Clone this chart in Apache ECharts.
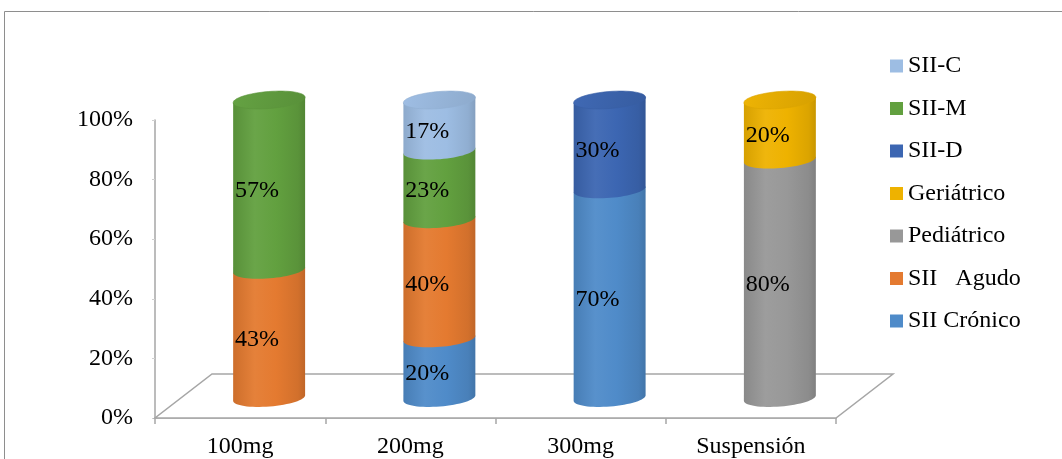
<!DOCTYPE html>
<html>
<head>
<meta charset="utf-8">
<script src="https://cdn.jsdelivr.net/npm/echarts@6/dist/echarts.min.js"></script>
<style>
  html, body { margin: 0; padding: 0; background: #fff; }
  #chart { width: 1062px; height: 459px; }
</style>
</head>
<body>
<div id="chart"></div>
<script>
// Categories and stacked shares (percent) per group
const categories = ['100mg', '200mg', '300mg', 'Suspensión'];
const siiCronico = [null, 20, 70, null];
const siiAgudo   = [43, 40, null, null];
const pediatrico = [null, null, null, 80];
const geriatrico = [null, null, null, 20];
const siiD       = [null, null, 30, null];
const siiM       = [57, 23, null, null];
const siiC       = [null, 17, null, null];
const yTicks = [0, 20, 40, 60, 80, 100];

// Stack order from bottom to top
const seriesDefs = [
  { name: 'SII Crónico', values: siiCronico, color: '#4F8BC9' },
  { name: 'SII   Agudo', values: siiAgudo,   color: '#E47A30' },
  { name: 'Pediátrico',  values: pediatrico, color: '#989898' },
  { name: 'Geriátrico',  values: geriatrico, color: '#EEB200' },
  { name: 'SII-D',       values: siiD,       color: '#3C66B2' },
  { name: 'SII-M',       values: siiM,       color: '#62A03F' },
  { name: 'SII-C',       values: siiC,       color: '#9DBDE3' }
];
const legendOrder = ['SII-C', 'SII-M', 'SII-D', 'Geriátrico', 'Pediátrico', 'SII   Agudo', 'SII Crónico'];

const FONT = '"Liberation Serif", "Times New Roman", serif';
const DEPTH_X = 29, DEPTH_Y = -20;   // cylinders sit halfway back on the floor
const FLOOR_X = 57, FLOOR_Y = -44;   // full floor depth
const TILT = 0.08;                   // slight perspective tilt of the ellipses

function shade(hex, f) {
  const n = parseInt(hex.slice(1), 16);
  let r = (n >> 16) & 255, g = (n >> 8) & 255, b = n & 255;
  const t = f > 0 ? 255 : 0, p = Math.abs(f);
  r = Math.round(r + (t - r) * p);
  g = Math.round(g + (t - g) * p);
  b = Math.round(b + (t - b) * p);
  return 'rgb(' + r + ',' + g + ',' + b + ')';
}

function bodyFill(color) {
  return {
    type: 'linear', x: 0, y: 0, x2: 1, y2: 0,
    colorStops: [
      { offset: 0, color: shade(color, -0.1) },
      { offset: 0.3, color: shade(color, 0.05) },
      { offset: 0.6, color: color },
      { offset: 0.9, color: shade(color, -0.08) },
      { offset: 1, color: shade(color, -0.16) }
    ]
  };
}

function ellipsePoint(cx, cy, rx, ry, t) {
  const c = Math.cos(t), s = Math.sin(t);
  return [
    cx + rx * c * Math.cos(TILT) + ry * s * Math.sin(TILT),
    cy - rx * c * Math.sin(TILT) + ry * s * Math.cos(TILT)
  ];
}

// Running totals so each segment knows where it starts
const base = categories.map(() => 0);
const totals = categories.map((_, i) =>
  seriesDefs.reduce((acc, d) => acc + (d.values[i] || 0), 0));

const cylinderSeries = seriesDefs.map(def => {
  const data = [];
  def.values.forEach((v, i) => {
    if (v == null) return;
    const start = base[i], end = base[i] + v;
    base[i] = end;
    data.push([i, start, end, end >= totals[i] ? 1 : 0, v]);
  });
  return {
    type: 'custom',
    name: def.name,
    itemStyle: { color: def.color },
    data: data,
    encode: { x: 0, y: [1, 2] },
    renderItem: function (params, api) {
      const idx = api.value(0), start = api.value(1), end = api.value(2);
      const isTop = api.value(3), val = api.value(4);
      const pb = api.coord([idx, start]), pt = api.coord([idx, end]);
      const band = api.size([1, 0])[0];
      const rx = band * 0.212, ry = 8.5;
      const cx = pb[0] + DEPTH_X, yb = pb[1] + DEPTH_Y, yt = pt[1] + DEPTH_Y;

      const body = [ellipsePoint(cx, yt, rx, ry, Math.PI), ellipsePoint(cx, yt, rx, ry, 0)];
      const steps = 32;
      for (let k = 0; k <= steps; k++) {
        body.push(ellipsePoint(cx, yb, rx, ry, Math.PI * k / steps));
      }
      const children = [{
        type: 'polygon',
        shape: { points: body },
        style: { fill: bodyFill(def.color), stroke: null }
      }];
      if (isTop) {
        const cap = [];
        for (let k = 0; k < 64; k++) cap.push(ellipsePoint(cx, yt, rx, ry, Math.PI * 2 * k / 64));
        children.push({
          type: 'polygon',
          shape: { points: cap },
          style: {
            fill: {
              type: 'linear', x: 0, y: 0, x2: 1, y2: 1,
              colorStops: [
                { offset: 0, color: shade(def.color, 0.02) },
                { offset: 1, color: shade(def.color, -0.1) }
              ]
            },
            stroke: shade(def.color, -0.08), lineWidth: 0.6
          }
        });
      }
      children.push({
        type: 'text',
        z2: 10,
        style: {
          text: Math.round(val) + '%',
          x: cx - rx + 2,
          y: (yt + yb) / 2 + 6,
          font: '24px ' + FONT,
          fill: '#000',
          textAlign: 'left', align: 'left',
          textVerticalAlign: 'middle', verticalAlign: 'middle'
        }
      });
      return { type: 'group', children: children };
    }
  };
});

const floorSeries = {
  type: 'custom',
  name: 'floor',
  silent: true,
  z: 1,
  data: [[0, 0]],
  renderItem: function (params, api) {
    const p = api.coord([0, 0]);
    const band = api.size([1, 0])[0];
    const x0 = p[0] - band / 2, x1 = x0 + band * categories.length, y0 = p[1];
    return {
      type: 'polygon',
      shape: { points: [[x0, y0], [x1, y0], [x1 + FLOOR_X, y0 + FLOOR_Y], [x0 + FLOOR_X, y0 + FLOOR_Y]] },
      style: { fill: '#fff', stroke: '#A6A6A6', lineWidth: 1.5 }
    };
  }
};

const chart = echarts.init(document.getElementById('chart'), null, { renderer: 'canvas' });
chart.setOption({
  animation: false,
  backgroundColor: '#fff',
  graphic: [{
    type: 'rect',
    silent: true,
    shape: { x: 4.5, y: 11.5, width: 1200, height: 600 },
    style: { fill: 'none', stroke: '#8e8e8e', lineWidth: 1 }
  }],
  grid: { left: 155, top: 120, width: 681, height: 300, containLabel: false },
  legend: {
    data: legendOrder,
    orient: 'vertical',
    left: 885,
    top: 49,
    icon: 'rect',
    itemWidth: 13,
    itemHeight: 13,
    itemGap: 18.5,
    textStyle: { fontFamily: FONT, fontSize: 24, color: '#000', lineHeight: 24 }
  },
  xAxis: {
    type: 'category',
    data: categories,
    axisLine: { lineStyle: { color: '#A6A6A6', width: 1.5 } },
    axisTick: { show: true, length: 6, lineStyle: { color: '#A6A6A6', width: 1.5 } },
    axisLabel: { margin: 17, fontFamily: FONT, fontSize: 24, color: '#000' },
    splitLine: { show: false }
  },
  yAxis: {
    type: 'value',
    min: yTicks[0],
    max: yTicks[yTicks.length - 1],
    interval: yTicks[1] - yTicks[0],
    axisLine: { show: true, lineStyle: { color: '#A6A6A6', width: 1.5 } },
    axisTick: { show: true, length: 3, lineStyle: { color: '#D0D0D0' } },
    axisLabel: { margin: 22, fontFamily: FONT, fontSize: 24, color: '#000', formatter: '{value}%' },
    splitLine: { show: false }
  },
  series: [floorSeries].concat(cylinderSeries)
});
</script>
</body>
</html>
